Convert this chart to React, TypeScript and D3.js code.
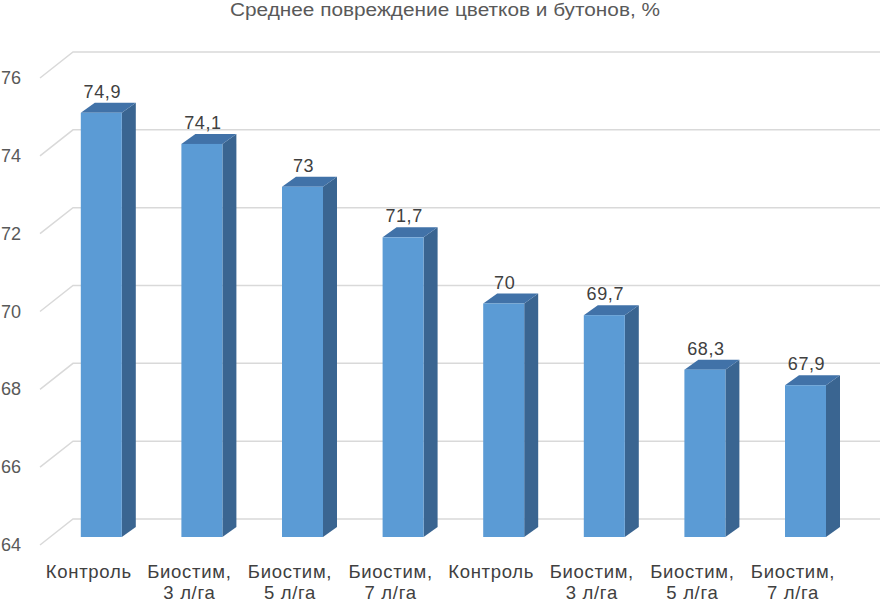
import React from 'react';
import * as d3 from 'd3';

const categories = ['Контроль', 'Биостим,|3 л/га', 'Биостим,|5 л/га', 'Биостим,|7 л/га', 'Контроль', 'Биостим,|3 л/га', 'Биостим,|5 л/га', 'Биостим,|7 л/га'];
const values = [74.9, 74.1, 73, 71.7, 70, 69.7, 68.3, 67.9];
const yTicks = [64, 66, 68, 70, 72, 74, 76];
const title = 'Среднее повреждение цветков и бутонов, %';

const W = 887, H = 602;
const font = 'Liberation Sans, Arial, sans-serif';

export default function App() {
  const x = d3.scaleBand<number>().domain(d3.range(values.length)).range([38.5, 843.3]);
  const y = d3.scaleLinear().domain([64, 76]).range([537, 70]);

  // back wall offset and depth of the chart floor
  const wallDy = 18, floorDx = 33, floorDy = 26;
  const barW = 41, depthX = 14, depthY = 10;
  const fmt = (v: number) => String(v).replace('.', ',');

  return (
    <svg width={W} height={H} style={{ position: 'absolute', left: 0, top: 0, background: '#fff' }}>
      <text x={230} y={16} textLength={430} lengthAdjust="spacingAndGlyphs" fontFamily={font} fontSize={17.5} fill="#595959">{title}</text>

      {yTicks.map(t => {
        const yb = y(t) - wallDy;
        return (
          <g key={t}>
            <polyline points={`${40},${yb + floorDy} ${40 + floorDx},${yb} ${880},${yb}`} fill="none" stroke="#d9d9d9" strokeWidth={1.5} />
            <text x={21} y={yb + floorDy + 6} textAnchor="end" fontFamily={font} fontSize={18} fill="#595959">{t}</text>
          </g>
        );
      })}

      {values.map((v, i) => {
        const cx = x(i)! + x.bandwidth() / 2;
        const x0 = cx - 8, x1 = x0 + barW;
        const yt = y(v), yb = y(64);
        return (
          <g key={i}>
            <polygon points={`${x1},${yt} ${x1 + depthX},${yt - depthY} ${x1 + depthX},${yb - depthY} ${x1},${yb}`} fill="#3a6591" />
            <polygon points={`${x0},${yt} ${x0 + depthX},${yt - depthY} ${x1 + depthX},${yt - depthY} ${x1},${yt}`} fill="#4172a8" />
            <rect x={x0} y={yt} width={barW} height={yb - yt} fill="#5b9bd5" />
            <text x={x0 + barW / 2 + 1} y={yt - depthY - 5} textAnchor="middle" fontFamily={font} fontSize={18} letterSpacing={0.6} fill="#404040">{fmt(v)}</text>
          </g>
        );
      })}

      {categories.map((c, i) => {
        const cx = x(i)! + x.bandwidth() / 2;
        return (
          <text key={i} textAnchor="middle" fontFamily={font} fontSize={18.5} letterSpacing={0.7} fill="#404040">
            {c.split('|').map((line, j) => (
              <tspan key={j} x={cx} y={578 + j * 21}>{line}</tspan>
            ))}
          </text>
        );
      })}
    </svg>
  );
}
